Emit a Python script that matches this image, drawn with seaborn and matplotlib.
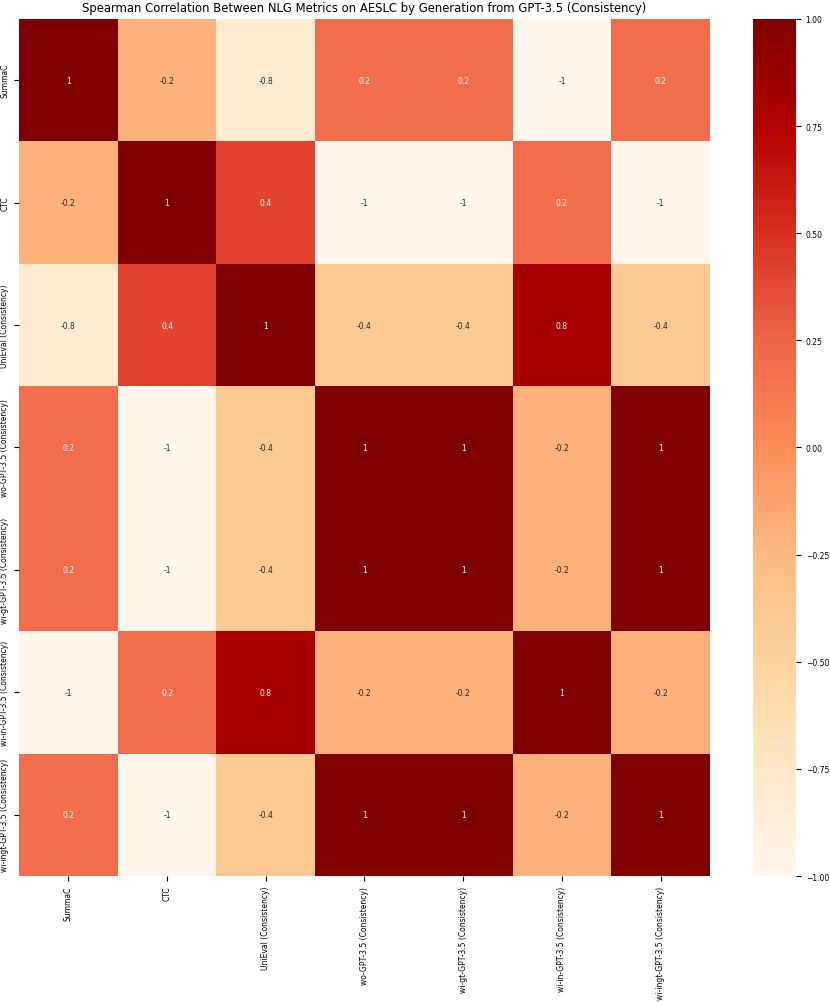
import pandas as pd
import seaborn as sns
import matplotlib.pyplot as plt

# metric names
METRICS = ["SummaC", "CTC", "UniEval (Consistency)", "wo-GPT-3.5 (Consistency)",
           "wi-gt-GPT-3.5 (Consistency)", "wi-in-GPT-3.5 (Consistency)",
           "wi-ingt-GPT-3.5 (Consistency)"]

# correlation rows
summac = [1, -0.2, -0.8, 0.2, 0.2, -1, 0.2]
ctc = [-0.2, 1, 0.4, -1, -1, 0.2, -1]
unieval = [-0.8, 0.4, 1, -0.4, -0.4, 0.8, -0.4]
wo_gpt = [0.2, -1, -0.4, 1, 1, -0.2, 1]
wi_gt_gpt = [0.2, -1, -0.4, 1, 1, -0.2, 1]
wi_in_gpt = [-1, 0.2, 0.8, -0.2, -0.2, 1, -0.2]
wi_ingt_gpt = [0.2, -1, -0.4, 1, 1, -0.2, 1]

TITLE = "Spearman Correlation Between NLG Metrics on AESLC by Generation from GPT-3.5 (Consistency)"

corr_df = pd.DataFrame([summac, ctc, unieval, wo_gpt, wi_gt_gpt, wi_in_gpt, wi_ingt_gpt],
                       index=METRICS, columns=METRICS)

fig = plt.figure(figsize=(8.3, 10.03), dpi=100)
ax = fig.add_axes([0.0229, 0.1256, 0.8325, 0.8545])
cbar_ax = fig.add_axes([0.9072, 0.1256, 0.0518, 0.8545])
sns.heatmap(corr_df, annot=True, cmap="OrRd", vmin=-1, vmax=1, fmt='g',
            annot_kws={"fontsize": 5.5}, ax=ax, cbar_ax=cbar_ax)
ax.tick_params(labelsize=5.5)
plt.setp(ax.get_yticklabels(), rotation=90, va="center")
plt.setp(ax.get_xticklabels(), rotation=90)
cbar_ax.tick_params(labelsize=5.5)
ax.set_title(TITLE, fontsize=8.4)
plt.savefig("out.png", dpi=100)
